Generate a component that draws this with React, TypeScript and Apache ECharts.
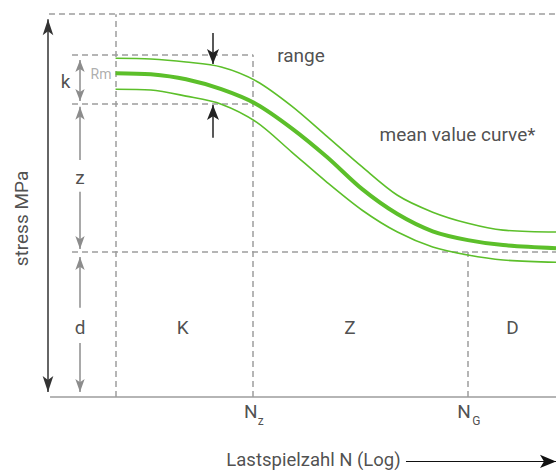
import React, { useEffect, useRef } from "react";
import * as echarts from "echarts";

// ---- data (x = log N in arbitrary units, y = stress in arbitrary MPa units) ----
const cycles = [1.0, 1.5, 2.0, 2.5, 3.0, 3.5, 4.0, 4.5, 5.0, 5.5, 6.0, 6.5, 7.25];
const meanCurve = [84.6, 84.3, 83.0, 80.4, 76.5, 70.2, 62.7, 54.3, 47.8, 43.3, 41.0, 39.7, 38.9];
const upperCurve = [88.5, 88.3, 87.5, 86.2, 82.5, 76.0, 68.1, 60.1, 52.7, 48.3, 45.4, 43.6, 43.1];
const lowerCurve = [80.4, 80.2, 78.6, 76.5, 71.8, 64.0, 56.1, 48.8, 43.1, 39.2, 37.1, 35.8, 35.2];

const N_START = 1.0;
const N_Z = 2.95;
const N_G = 6.0;
const N_END = 7.25;
const STRESS_TOP = 100;
const RM_UPPER = 89.4;
const RM_LOWER = 76.5;
const ENDURANCE = 37.9;

const regionNames = ["K", "Z", "D"];
const zoneNames = ["k", "z", "d"];
const xTickNames = ["N", "N"];
const xTickSubs = ["z", "G"];

// ---- styles ----
const GREEN = "#5cbf2a";
const FONT = "Roboto, sans-serif";
const TEXT = "#222";
const GRAY = "#8c8c8c";
const DASH = { color: "#9d9d9d", width: 1.5, type: [6, 4] };

type Pt = [number, number];
function seg(a: Pt, b: Pt, style: any, s0 = "none", s1 = "none", size: number[] = [8, 14]) {
  return [
    { coord: a, symbol: s0, symbolSize: size, lineStyle: style },
    { coord: b, symbol: s1, symbolSize: size, lineStyle: style },
  ];
}

function lbl(x: number, y: number, text: string, extra: any = {}) {
  return {
    value: [x, y],
    label: {
      show: true,
      formatter: text,
      position: [0, 0],
      align: "center",
      verticalAlign: "middle",
      fontSize: 19,
      fontFamily: FONT,
      color: TEXT,
      ...extra,
    },
  };
}

export default function App() {
  const ref = useRef<HTMLDivElement>(null);
  useEffect(() => {
    if (!ref.current) return;
    const chart = echarts.init(ref.current, null, { renderer: "svg" });

    const gx = 0.4952; // gray arrow column
    const bx = 2.3826; // black range arrows
    const sx = 0.041; // stress arrow
    const graySolid = { color: GRAY, width: 1.5, type: "solid" };
    const black = { color: "#222", width: 1.5, type: "solid" };

    const frameLines = [
      seg([0.055, STRESS_TOP], [N_END, STRESS_TOP], DASH),
      seg([N_START, 0], [N_START, STRESS_TOP], DASH),
      seg([N_Z, 0], [N_Z, RM_UPPER], DASH),
      seg([N_G, 0], [N_G, ENDURANCE], DASH),
      seg([0.382, RM_UPPER], [N_Z, RM_UPPER], DASH),
      seg([0.382, RM_LOWER], [N_Z, RM_LOWER], DASH),
      seg([0.382, ENDURANCE], [N_END, ENDURANCE], DASH),
      seg([0.07, 0], [N_END, 0], { color: "#9d9d9d", width: 1.5, type: "solid" }),
      // stress arrow
      seg([sx, 98.7], [sx, 1.33], { color: "#333", width: 1.5, type: "solid" }, "arrow", "arrow", [8, 16]),
      // k
      seg([gx, 88.0], [gx, 77.3], graySolid, "arrow", "arrow", [7, 12]),
      // z
      seg([gx, 75.8], [gx, 61.9], graySolid, "arrow", "none", [7, 13]),
      seg([gx, 53.6], [gx, 38.7], graySolid, "none", "arrow", [7, 13]),
      // d
      seg([gx, 36.6], [gx, 23.3], graySolid, "arrow", "none", [7, 13]),
      seg([gx, 14.1], [gx, 1.33], graySolid, "none", "arrow", [7, 13]),
      // range arrows
      seg([bx, 95.1], [bx, 87.0], black, "none", "arrow", [9, 15]),
      seg([bx, 67.7], [bx, 76.3], black, "none", "arrow", [9, 15]),
      // x-axis arrow
      seg([5.121, -16.8], [N_END, -16.8], { color: "#111", width: 1, type: "solid" }, "none", "arrow", [10, 16]),
    ];

    const labels = [
      lbl(1.9526, 18.22, regionNames[0]),
      lbl(4.3267, 18.22, regionNames[1]),
      lbl(6.6342, 18.22, regionNames[2]),
      lbl(0.2895, 82.47, zoneNames[0]),
      lbl(gx, 57.4, zoneNames[1]),
      lbl(gx, 18.22, zoneNames[2]),
      lbl(0.7933, 84.43, "Rm", { fontSize: 14, color: "#999" }),
      lbl(3.6314, 89.08, "range"),
      lbl(5.8522, 68.63, "mean value curve*"),
      lbl(N_Z - 0.03, -3.85, xTickNames[0]),
      lbl(N_Z + 0.11, -6.35, xTickSubs[0], { fontSize: 12 }),
      lbl(N_G - 0.055, -3.85, xTickNames[1]),
      lbl(N_G + 0.12, -6.35, xTickSubs[1], { fontSize: 12 }),
      lbl(3.8088, -16.4, "Lastspielzahl N (Log)", { fontSize: 18.5, lineHeight: 15 }),
      lbl(-0.338, 46.64, "stress MPa", { rotate: 90 }),
    ];

    const curve = (data: number[], width: number, name: string) => ({
      type: "line",
      name,
      data: cycles.map((c, i) => [c, data[i]]),
      smooth: 0.3,
      symbol: "none",
      z: 3,
      lineStyle: { color: GREEN, width },
      silent: true,
    });

    chart.setOption({
      animation: false,
      grid: { left: 0, right: 0, top: 0, bottom: 0 },
      xAxis: { type: "value", min: -0.64, max: 7.25, show: false },
      yAxis: { type: "value", min: -19.3, max: 103.7, show: false },
      series: [
        {
          type: "scatter",
          name: "annotations",
          symbolSize: 0,
          data: labels,
          z: 4,
          silent: true,
          markLine: {
            silent: true,
            animation: false,
            symbol: "none",
            label: { show: false },
            emphasis: { disabled: true },
            data: frameLines,
            z: 1,
          },
        },
        curve(upperCurve, 1.6, "upper"),
        curve(lowerCurve, 1.6, "lower"),
        curve(meanCurve, 4, "mean"),
      ],
    });
    return () => chart.dispose();
  }, []);

  return (
    <div
      ref={ref}
      style={{ position: "absolute", left: 0, top: 0, width: 556, height: 471, background: "#fff" }}
    />
  );
}
